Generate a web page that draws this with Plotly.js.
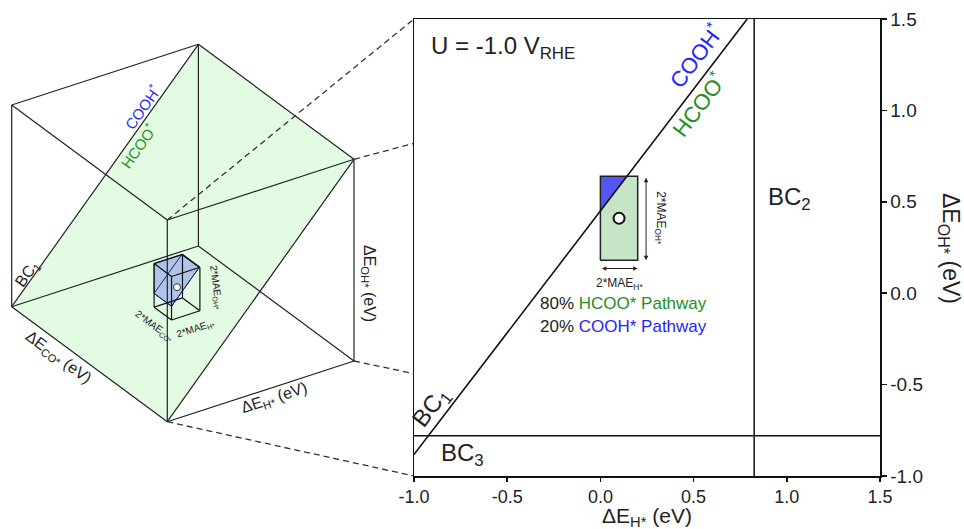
<!DOCTYPE html>
<html><head><meta charset="utf-8">
<script src="https://cdn.plot.ly/plotly-3.0.1.min.js"></script>
<style>html,body{margin:0;padding:0;background:#fff}</style>
</head><body><div id="chart" style="width:964px;height:529px"></div>
<script>
// ===== 2D map data: ΔE_H* (x) vs ΔE_OH* (y), U = -1.0 V_RHE =====
const axisRange = [-1.0, 1.5];
const axisTicks = [-1.0, -0.5, 0.0, 0.5, 1.0, 1.5];
const axisTickText = ['-1.0', '-0.5', '0.0', '0.5', '1.0', '1.5'];
const bc1Slope = 1.333;       // BC1: ΔE_OH* = slope * ΔE_H* + intercept
const bc1Intercept = 0.45;
const bc2H = 0.825;           // BC2: vertical boundary (ΔE_H*)
const bc3OH = -0.78;          // BC3: horizontal boundary (ΔE_OH*)
const catalystPoint = [0.10, 0.41];   // (ΔE_H*, ΔE_OH*)
const maeH = 0.10;
const maeOH = 0.23;
const pathwayShares = [80, 20];
const pathwayNames = ['HCOO* Pathway', 'COOH* Pathway'];
const connectorOH = [1.5, 0.82, -0.44, -1.0]; // dashed links meet the map's left edge here

// ===== 3D schematic data: (ΔE_H*, ΔE_OH*, ΔE_CO*) =====
const cubeRange = [-1.0, 1.5];
const innerBoxCenter = [-0.07, -0.16, -0.04];
const innerBoxHalf = [0.19, 0.27, 0.14];

// ===== layout constants (pixels) =====
const W = 964, H = 529;
const PLOT = {l: 414, r: 880, t: 19, b: 476};
const ORIGIN = [167.3, 421.7];          // projected (H=-1, OH=-1, CO=-1)
const EH = [186.7, -60.7], EOH = [0, -201.7], ECO = [-155.6, -115];
const FONT = 'Liberation Sans, Arial, sans-serif';
const BLUE_TXT = '#2424ff', GREEN_TXT = '#1f8f1f';

function proj(p) {
  const span = cubeRange[1] - cubeRange[0];
  const u = (p[0] - cubeRange[0]) / span, v = (p[1] - cubeRange[0]) / span, w = (p[2] - cubeRange[0]) / span;
  return [ORIGIN[0] + u*EH[0] + v*EOH[0] + w*ECO[0], ORIGIN[1] + u*EH[1] + v*EOH[1] + w*ECO[1]];
}
function mapPx(x, y) {
  const fx = (x - axisRange[0]) / (axisRange[1] - axisRange[0]);
  const fy = (y - axisRange[0]) / (axisRange[1] - axisRange[0]);
  return [PLOT.l + fx*(PLOT.r - PLOT.l), PLOT.b - fy*(PLOT.b - PLOT.t)];
}
function boxCorners(c, h) {
  const out = [];
  for (const a of [-1, 1]) for (const b of [-1, 1]) for (const d of [-1, 1])
    out.push([c[0] + a*h[0], c[1] + b*h[1], c[2] + d*h[2]]);
  return out;
}
function boxEdges(corners) {
  const e = [];
  for (let i = 0; i < 8; i++) for (let j = i+1; j < 8; j++) {
    let diff = 0;
    for (let k = 0; k < 3; k++) if (corners[i][k] !== corners[j][k]) diff++;
    if (diff === 1) e.push([corners[i], corners[j]]);
  }
  return e;
}
function edgesToXY(edges) {
  const x = [], y = [];
  edges.forEach(([a, b]) => { const pa = proj(a), pb = proj(b); x.push(pa[0], pb[0], null); y.push(pa[1], pb[1], null); });
  return {x, y};
}
function hull(pts) {
  const p = pts.slice().sort((a, b) => a[0] - b[0] || a[1] - b[1]);
  const cross = (o, a, b) => (a[0]-o[0])*(b[1]-o[1]) - (a[1]-o[1])*(b[0]-o[0]);
  const lo = [], up = [];
  for (const q of p) { while (lo.length >= 2 && cross(lo[lo.length-2], lo[lo.length-1], q) <= 0) lo.pop(); lo.push(q); }
  for (let i = p.length-1; i >= 0; i--) { const q = p[i]; while (up.length >= 2 && cross(up[up.length-2], up[up.length-1], q) <= 0) up.pop(); up.push(q); }
  up.pop(); lo.pop();
  return lo.concat(up);
}
function closeXY(pts) { return {x: pts.map(p => p[0]).concat([pts[0][0]]), y: pts.map(p => p[1]).concat([pts[0][1]])}; }

// ---------- 3D schematic geometry ----------
const cube = boxCorners([0.25, 0.25, 0.25], [1.25, 1.25, 1.25]);
const cubeXY = edgesToXY(boxEdges(cube));
const lo = cubeRange[0], hi = cubeRange[1];
const planePts = [[lo, lo, hi], [hi, hi, hi], [hi, hi, lo], [lo, lo, lo]].map(proj); // plane ΔE_OH* = ΔE_H*
const planeXY = closeXY(planePts);
const planeLines = {x: [planePts[0][0], planePts[1][0], null, planePts[2][0], planePts[3][0]],
                    y: [planePts[0][1], planePts[1][1], null, planePts[2][1], planePts[3][1]]};

const inner = boxCorners(innerBoxCenter, innerBoxHalf);
const innerEdges = boxEdges(inner);
const innerXY = edgesToXY(innerEdges);
const f = p => p[1] - p[0];
const keep = inner.filter(p => f(p) >= 0);
const cut = [];
innerEdges.forEach(([a, b]) => {
  const fa = f(a), fb = f(b);
  if ((fa > 0 && fb < 0) || (fa < 0 && fb > 0)) {
    const t = fa / (fa - fb);
    cut.push([a[0] + t*(b[0]-a[0]), a[1] + t*(b[1]-a[1]), a[2] + t*(b[2]-a[2])]);
  }
});
const blueHullXY = closeXY(hull(keep.concat(cut).map(proj)));
const cutHullXY = closeXY(hull(cut.map(proj)));
const innerC = proj(innerBoxCenter);

// connectors: front face corners D, C, G, F of cube -> left edge of the map
const faceCorners = [[lo, hi, lo], [hi, hi, lo], [hi, lo, lo], [lo, lo, lo]].map(proj);
const connX = [], connY = [];
faceCorners.forEach((p, i) => { const q = mapPx(axisRange[0], connectorOH[i]); connX.push(p[0], q[0], null); connY.push(p[1], q[1], null); });

// ---------- 2D map geometry ----------
const rx0 = catalystPoint[0] - maeH, rx1 = catalystPoint[0] + maeH;
const ry0 = catalystPoint[1] - maeOH, ry1 = catalystPoint[1] + maeOH;
const yAtLeft = bc1Slope*rx0 + bc1Intercept;
const xAtTop = (ry1 - bc1Intercept) / bc1Slope;
const bc1X = [axisRange[0], (axisRange[1] - bc1Intercept) / bc1Slope];
const bc1Y = bc1X.map(x => bc1Slope*x + bc1Intercept);

const traces = [
  // main map
  {type: 'scatter', mode: 'lines', x: [rx0, rx1, rx1, rx0, rx0], y: [ry0, ry0, ry1, ry1, ry0], fill: 'toself',
   fillcolor: '#c6e5c6', line: {width: 0}, hoverinfo: 'skip'},
  {type: 'scatter', mode: 'lines', x: [rx0, rx0, xAtTop, rx0], y: [yAtLeft, ry1, ry1, yAtLeft], fill: 'toself',
   fillcolor: '#5656f4', line: {width: 0}, hoverinfo: 'skip'},
  {type: 'scatter', mode: 'lines', x: [rx0, rx1, rx1, rx0, rx0], y: [ry0, ry0, ry1, ry1, ry0],
   line: {color: '#222', width: 1.5}, hoverinfo: 'skip'},
  {type: 'scatter', mode: 'lines', x: bc1X, y: bc1Y, line: {color: '#111', width: 1.6}, hoverinfo: 'skip'},
  {type: 'scatter', mode: 'lines', x: [bc2H, bc2H], y: axisRange, line: {color: '#111', width: 1.5}, hoverinfo: 'skip'},
  {type: 'scatter', mode: 'lines', x: axisRange, y: [bc3OH, bc3OH], line: {color: '#111', width: 1.5}, hoverinfo: 'skip'},
  {type: 'scatter', mode: 'markers', x: [catalystPoint[0]], y: [catalystPoint[1]],
   marker: {size: 11, color: '#fff', line: {color: '#111', width: 2}}, hoverinfo: 'skip'},
  // 3D schematic (pixel space)
  {type: 'scatter', mode: 'lines', xaxis: 'x2', yaxis: 'y2', x: planeXY.x, y: planeXY.y, fill: 'toself',
   fillcolor: '#e3fbe3', line: {width: 0}, hoverinfo: 'skip'},
  {type: 'scatter', mode: 'lines', xaxis: 'x2', yaxis: 'y2', x: blueHullXY.x, y: blueHullXY.y, fill: 'toself',
   fillcolor: 'rgba(140,160,235,0.6)', line: {color: '#1c2a6a', width: 1}, hoverinfo: 'skip'},
  {type: 'scatter', mode: 'lines', xaxis: 'x2', yaxis: 'y2', x: cutHullXY.x, y: cutHullXY.y,
   line: {color: '#1c2a6a', width: 1}, hoverinfo: 'skip'},
  {type: 'scatter', mode: 'lines', xaxis: 'x2', yaxis: 'y2', x: cubeXY.x, y: cubeXY.y,
   line: {color: '#222', width: 1.2}, hoverinfo: 'skip'},
  {type: 'scatter', mode: 'lines', xaxis: 'x2', yaxis: 'y2', x: planeLines.x, y: planeLines.y,
   line: {color: '#222', width: 1.2}, hoverinfo: 'skip'},
  {type: 'scatter', mode: 'lines', xaxis: 'x2', yaxis: 'y2', x: innerXY.x, y: innerXY.y,
   line: {color: '#111', width: 1.2}, hoverinfo: 'skip'},
  {type: 'scatter', mode: 'markers', xaxis: 'x2', yaxis: 'y2', x: [innerC[0]], y: [innerC[1]],
   marker: {size: 7, color: '#fff', line: {color: '#333', width: 1}}, hoverinfo: 'skip'},
  {type: 'scatter', mode: 'lines', xaxis: 'x2', yaxis: 'y2', x: connX, y: connY,
   line: {color: '#333', width: 1.3, dash: '6px,4px'}, hoverinfo: 'skip'}
];

const slopeAngle = -Math.atan(bc1Slope * (PLOT.b - PLOT.t) / (PLOT.r - PLOT.l)) * 180 / Math.PI;
const cubeAngle = Math.atan2(planePts[1][1] - planePts[0][1], planePts[1][0] - planePts[0][0]) * 180 / Math.PI;
const coAngle = Math.atan2(-ECO[1], -ECO[0]) * 180 / Math.PI;
const hAngle = Math.atan2(EH[1], EH[0]) * 180 / Math.PI;

function pxAnn(x, y, text, size, extra) {
  return Object.assign({xref: 'x2', yref: 'y2', x, y, text, showarrow: false, font: {family: FONT, size, color: '#222'}}, extra || {});
}
function dAnn(x, y, text, size, extra) {
  return Object.assign({xref: 'x', yref: 'y', x, y, text, showarrow: false, font: {family: FONT, size, color: '#222'}}, extra || {});
}

const annotations = [
  dAnn(-0.92, 1.345, 'U = -1.0 V<sub>RHE</sub>', 24, {xanchor: 'left'}),
  dAnn(0.89, 0.52, 'BC<sub>2</sub>', 24, {xanchor: 'left'}),
  dAnn(-0.865, -0.885, 'BC<sub>3</sub>', 24, {xanchor: 'left'}),
  dAnn(-0.905, -0.625, 'BC<sub>1</sub>', 24, {textangle: slopeAngle}),
  dAnn(0.505, 1.30, 'COOH<sup>*</sup>', 22, {textangle: slopeAngle, font: {family: FONT, size: 22, color: BLUE_TXT}}),
  dAnn(0.525, 1.035, 'HCOO<sup>*</sup>', 22, {textangle: slopeAngle, font: {family: FONT, size: 22, color: GREEN_TXT}}),
  dAnn(0.32, catalystPoint[1], '2*MAE<sub>OH*</sub>', 12, {textangle: 90}),
  dAnn(catalystPoint[0], ry0 - 0.075, '2*MAE<sub>H*</sub>', 12, {yanchor: 'top'}),
  {xref: 'x', yref: 'y', axref: 'x', ayref: 'y', x: rx1 + 0.045, y: ry0, ax: rx1 + 0.045, ay: ry1, text: '',
   showarrow: true, arrowhead: 2, startarrowhead: 2, arrowside: 'end+start', arrowsize: 0.9, arrowwidth: 1, arrowcolor: '#222'},
  {xref: 'x', yref: 'y', axref: 'x', ayref: 'y', x: rx1, y: ry0 - 0.045, ax: rx0, ay: ry0 - 0.045, text: '',
   showarrow: true, arrowhead: 2, startarrowhead: 2, arrowside: 'end+start', arrowsize: 0.9, arrowwidth: 1, arrowcolor: '#222'},
  dAnn(-0.335, -0.055, pathwayShares[0] + '% <span style="color:' + GREEN_TXT + '">' + pathwayNames[0] + '</span>', 17, {xanchor: 'left'}),
  dAnn(-0.335, -0.18, pathwayShares[1] + '% <span style="color:' + BLUE_TXT + '">' + pathwayNames[1] + '</span>', 17, {xanchor: 'left'}),
  // axis titles
  pxAnn(647, 517, 'ΔE<sub>H*</sub> (eV)', 21),
  pxAnn(950, 248, 'ΔE<sub>OH*</sub> (eV)', 23, {textangle: 90}),
  // 3D schematic labels
  pxAnn(141, 107, 'COOH<sup>*</sup>', 15, {textangle: cubeAngle, font: {family: FONT, size: 15, color: BLUE_TXT}}),
  pxAnn(137, 146, 'HCOO<sup>*</sup>', 15, {textangle: cubeAngle, font: {family: FONT, size: 15, color: GREEN_TXT}}),
  pxAnn(27, 274, 'BC<sub>1</sub>', 16, {textangle: cubeAngle}),
  pxAnn(369, 283, 'ΔE<sub>OH*</sub> (eV)', 16, {textangle: 90}),
  pxAnn(58, 357, 'ΔE<sub>CO*</sub> (eV)', 16, {textangle: coAngle}),
  pxAnn(274, 398, 'ΔE<sub>H*</sub> (eV)', 16, {textangle: hAngle}),
  pxAnn(216, 287, '2*MAE<sub>OH*</sub>', 10, {textangle: 82}),
  pxAnn(154, 326, '2*MAE<sub>CO*</sub>', 10, {textangle: coAngle}),
  pxAnn(195, 329, '2*MAE<sub>H*</sub>', 10, {textangle: hAngle})
];

const axBase = {range: axisRange, tickvals: axisTicks, ticktext: axisTickText, showgrid: false, zeroline: false,
  showline: true, linecolor: '#111', linewidth: 1.5, mirror: true, ticks: 'outside', ticklen: 5, tickwidth: 1.5,
  tickcolor: '#111', tickfont: {family: FONT, size: 19, color: '#222'}, fixedrange: true};

const layout = {
  width: W, height: H, margin: {l: 0, r: 0, t: 0, b: 0}, showlegend: false,
  paper_bgcolor: '#fff', plot_bgcolor: 'rgba(0,0,0,0)',
  xaxis: Object.assign({}, axBase, {domain: [PLOT.l / W, PLOT.r / W], anchor: 'y', ticklen: 4,
    tickfont: {family: FONT, size: 18, color: '#222'}}),
  yaxis: Object.assign({}, axBase, {domain: [(H - PLOT.b) / H, (H - PLOT.t) / H], anchor: 'x', side: 'right'}),
  xaxis2: {domain: [0, 1], range: [0, W], visible: false, anchor: 'y2', fixedrange: true},
  yaxis2: {domain: [0, 1], range: [H, 0], visible: false, anchor: 'x2', fixedrange: true},
  annotations
};

Plotly.newPlot('chart', traces, layout, {displayModeBar: false, staticPlot: true});
</script></body></html>
